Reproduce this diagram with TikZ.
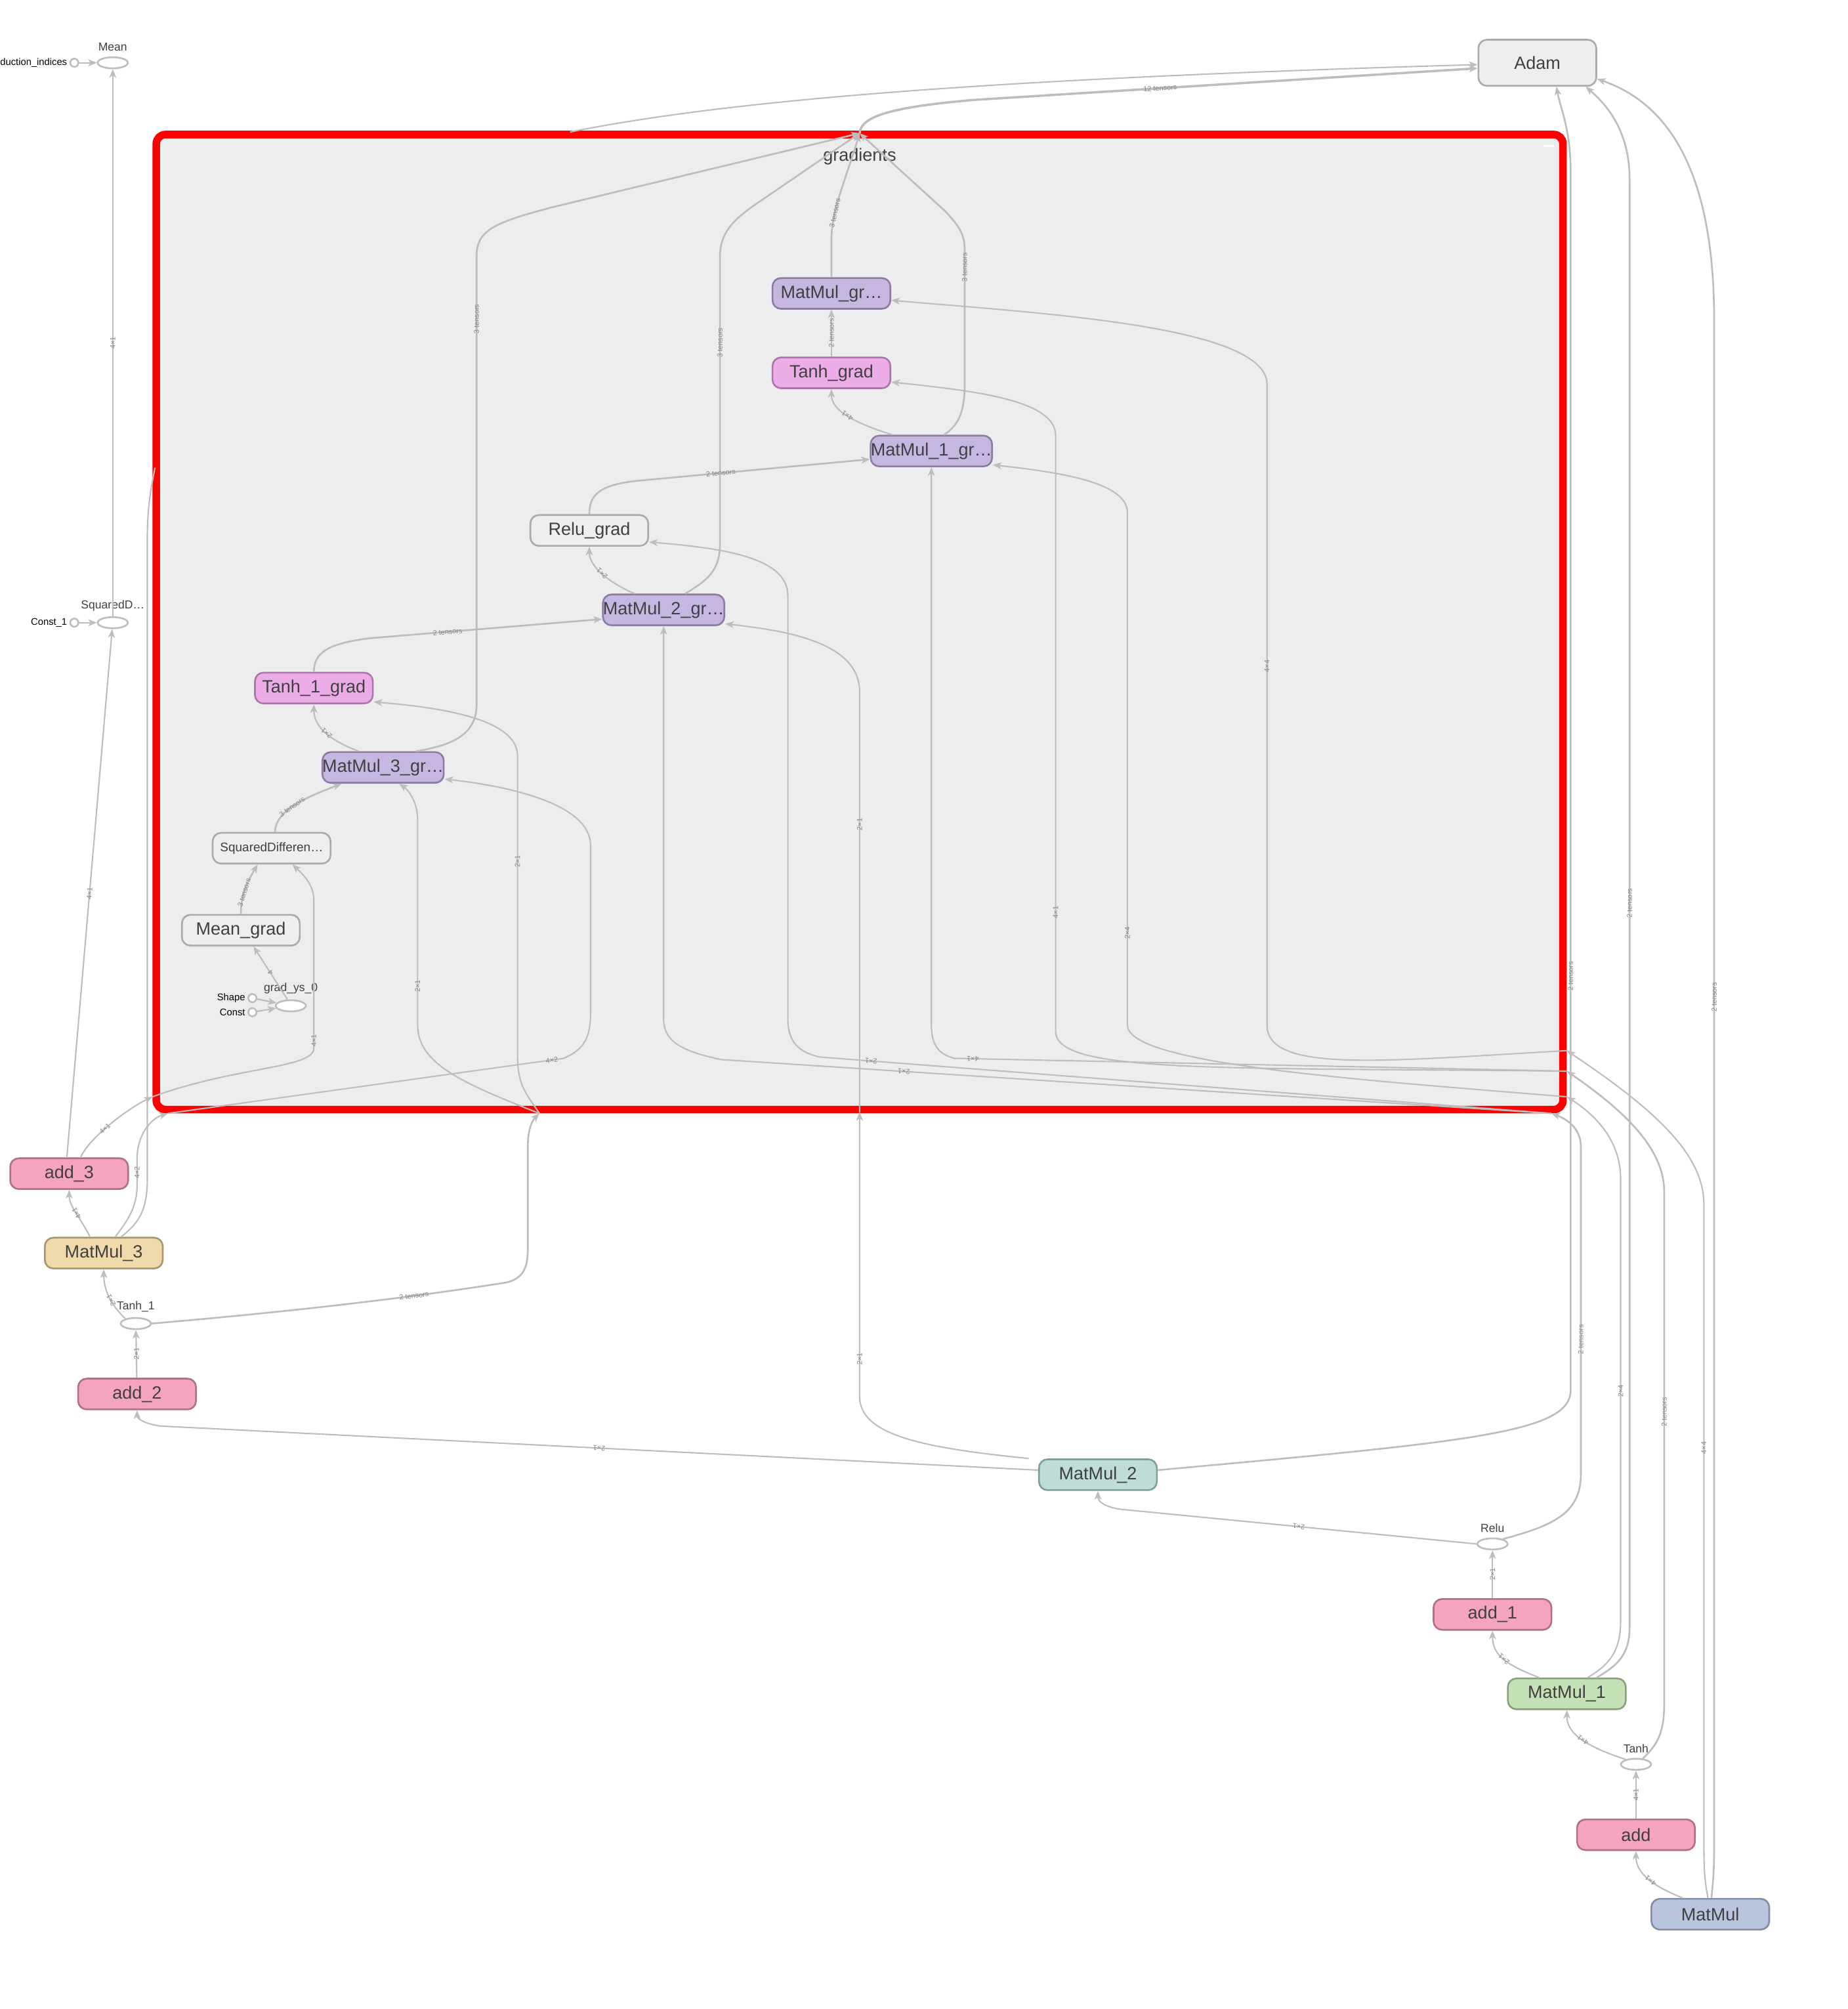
\documentclass[tikz,border=0pt]{standalone}
\usepackage{fontspec}
\setmainfont{Liberation Sans}
\usetikzlibrary{shapes.geometric,arrows.meta}
\definecolor{edgec}{HTML}{BDBDBD}
\definecolor{elabc}{HTML}{858585}
\definecolor{txt}{HTML}{404040}
\definecolor{framefill}{HTML}{EDEDED}
\definecolor{grayfill}{HTML}{EEEEEE}
\definecolor{graydraw}{HTML}{AAAAAA}
\definecolor{purfill}{HTML}{C5B7E1}
\definecolor{purdraw}{HTML}{8C7DA0}
\definecolor{pinkfill}{HTML}{EBACE8}
\definecolor{pinkdraw}{HTML}{AA78A8}
\definecolor{addfill}{HTML}{F5A4BE}
\definecolor{adddraw}{HTML}{B27087}
\definecolor{tanfill}{HTML}{F0DAAB}
\definecolor{tandraw}{HTML}{A8966E}
\definecolor{tealfill}{HTML}{BEDDD9}
\definecolor{tealdraw}{HTML}{7DA09C}
\definecolor{greenfill}{HTML}{C5E2B7}
\definecolor{greendraw}{HTML}{88A07D}
\definecolor{bluefill}{HTML}{B9C4DF}
\definecolor{bluedraw}{HTML}{828CA5}
\begin{document}
\begin{tikzpicture}[x=0.01953cm, y=-0.01953cm,
  opbox/.style={rectangle, rounded corners=0.13cm, line width=0.75pt, minimum width=1.797cm,
    minimum height=0.469cm, inner sep=0pt, text=txt, font=\fontsize{7.7}{9}\selectfont},
  graybox/.style={opbox, fill=grayfill, draw=graydraw},
  purbox/.style={opbox, fill=purfill, draw=purdraw},
  pinkbox/.style={opbox, fill=pinkfill, draw=pinkdraw},
  addbox/.style={opbox, fill=addfill, draw=adddraw},
  opell/.style={ellipse, draw=edgec, fill=white, line width=0.75pt, minimum width=0.46cm,
    minimum height=0.17cm, inner sep=0pt},
  oplab/.style={text=txt, font=\fontsize{5}{6}\selectfont, inner sep=0.8pt, label distance=1.3pt},
  cst/.style={circle, draw=edgec, fill=white, line width=0.75pt, minimum size=0.125cm, inner sep=0pt},
  cstlab/.style={text=black, font=\fontsize{4.2}{5}\selectfont, inner sep=0.8pt},
  conn/.style={draw=edgec, line width=0.6pt, -{Stealth[length=1.3mm,width=1.05mm,inset=0.35mm]}},
  conn2/.style={conn, line width=0.75pt},
  elab/.style={text=elabc, font=\fontsize{3.1}{3.6}\selectfont, inner sep=0.2pt, sloped, allow upside down},
]
\useasboundingbox (0,0) rectangle (1442,1568);
\fill[white] (0,0) rectangle (1442,1568);

% gradients group frame
\draw[draw=red, fill=framefill, line width=3.3pt, rounded corners=0.14cm] (122,105) rectangle (1220,866);
\draw[white, line width=1.1pt] (1205,114) -- (1213,114);
\node[text=txt, font=\fontsize{7.7}{9}\selectfont] (gradlab) at (671,122) {gradients};

% ports on the frame
\coordinate (gout) at (671,104);
\coordinate (ftop) at (445,103);
\coordinate (fleft) at (121,365);
\coordinate (inL) at (119,856);
\coordinate (inBL) at (131,869);
\coordinate (inB1) at (421,869);
\coordinate (inB2) at (671,868);
\coordinate (inBR) at (1211,869);
\coordinate (inR1) at (1223,820);
\coordinate (inR2) at (1223,836);
\coordinate (inR3) at (1223,856);

% loss ops, top left
\node[opell, label={[oplab]above:Mean}] (mean) at (88,49) {};
\node[cst, label={[cstlab]left:reduction\_indices}] (ri) at (58,49) {};
\node[opell, label={[oplab]above:SquaredD…}] (sqd) at (88,486) {};
\node[cst, label={[cstlab]left:Const\_1}] (c1) at (58,486) {};

% gradient ops
\node[purbox] (mmgr) at (649,229) {MatMul\_gr…};
\node[pinkbox] (tanhgr) at (649,291) {Tanh\_grad};
\node[purbox] (mm1gr) at (727,352) {MatMul\_1\_gr…};
\node[graybox] (relugr) at (460,414) {Relu\_grad};
\node[purbox] (mm2gr) at (518,476) {MatMul\_2\_gr…};
\node[pinkbox] (tanh1gr) at (245,537) {Tanh\_1\_grad};
\node[purbox] (mm3gr) at (299,599) {MatMul\_3\_gr…};
\node[graybox, font=\fontsize{5.4}{6.5}\selectfont] (sqdgr) at (212,662) {SquaredDifferen…};
\node[graybox] (meangr) at (188,726) {Mean\_grad};
\node[opell, label={[oplab]above:grad\_ys\_0}] (gys) at (227,785) {};
\node[cst, label={[cstlab]left:Shape}] (shape) at (197,779) {};
\node[cst, label={[cstlab]left:Const}] (const) at (197,790) {};

% forward ops
\node[graybox, minimum height=0.703cm] (adam) at (1200,49) {Adam};
\node[addbox] (add3) at (54,916) {add\_3};
\node[opbox, fill=tanfill, draw=tandraw] (mm3) at (81,978) {MatMul\_3};
\node[opell, label={[oplab]above:Tanh\_1}] (tanh1) at (106,1033) {};
\node[addbox] (add2) at (107,1088) {add\_2};
\node[opbox, fill=tealfill, draw=tealdraw] (mm2) at (857,1151) {MatMul\_2};
\node[opell, label={[oplab]above:Relu}] (relu) at (1165,1205) {};
\node[addbox] (add1) at (1165,1260) {add\_1};
\node[opbox, fill=greenfill, draw=greendraw] (mm1) at (1223,1322) {MatMul\_1};
\node[opell, label={[oplab]above:Tanh}] (tanh) at (1277,1377) {};
\node[addbox] (add) at (1277,1432) {add};
\node[opbox, fill=bluefill, draw=bluedraw] (mm) at (1335,1494) {MatMul};

% ---- loss edges
\draw[conn] (ri) -- (mean);
\draw[conn] (c1) -- (sqd);
\draw[conn] (sqd) -- node[elab]{4×1} (mean);
\draw[conn] ([xshift=-1pt]add3.north) -- node[elab]{4×1} (sqd);

% ---- MatMul_3
\draw[conn] ([xshift=-6pt]mm3.north) .. controls (64,952) and (54,942) .. node[elab,pos=.5]{4×1} (add3.south);
\draw[conn] ([xshift=5pt]mm3.north) .. controls (100,952) and (107,942) .. (107,925) -- node[elab]{4×2} (107,905) .. controls (107,885) and (118,873) .. (inBL);
\draw[draw=edgec, line width=0.6pt] ([xshift=7.5pt]mm3.north) .. controls (108,955) and (115,945) .. (115,920) -- (115,420) .. controls (115,395) and (118,380) .. (fleft);
\draw[conn] (inBL) -- node[elab,pos=.97]{4×2} (440,826) .. controls (456,819) and (461,810) .. (461,790) -- (461,660) .. controls (461,628) and (400,614) .. ([yshift=-5pt]mm3gr.east);

% ---- add_3 into the group
\draw[conn] ([xshift=5pt]add3.north) .. controls (68,890) and (98,866) .. node[elab,pos=.45]{4×1} (inL);
\draw[conn] (inL) .. controls (185,832) and (245,834) .. (245,818) -- node[elab,pos=.5]{4×1} (245,806) -- (245,703) .. controls (245,690) and (236,682) .. ([xshift=9pt]sqdgr.south);

% ---- Tanh_1
\draw[conn] (add2) -- node[elab]{2×1} (tanh1);
\draw[conn] (tanh1.155) .. controls (88,1020) and (81,1008) .. node[elab,pos=.45]{2×1} (mm3.south);
\draw[conn2] (tanh1.east) .. controls (200,1026) and (300,1016) .. node[elab,pos=.75]{2 tensors} (395,1001) .. controls (408,998) and (412,990) .. (412,975) -- (412,895) .. controls (412,882) and (415,875) .. (inB1);
\draw[conn] (inB1) .. controls (412,855) and (404,848) .. (404,825) -- node[elab,pos=.65]{2×1} (404,590) .. controls (404,560) and (340,552) .. ([yshift=-6pt]tanh1gr.east);
\draw[conn] (inB1) .. controls (360,845) and (326,830) .. (326,800) -- node[elab,pos=.19]{2×1} (326,640) .. controls (326,625) and (318,616) .. ([xshift=7pt]mm3gr.south);

% ---- MatMul_2
\draw[conn] ([yshift=2pt]mm2.west) -- node[elab]{2×1} (125,1113) .. controls (112,1111) and (107,1107) .. (add2.south);
\draw[conn] ([xshift=-30pt]mm2.north) .. controls (720,1130) and (671,1120) .. (671,1090) -- node[elab,pos=.14]{2×1} (671,880) -- (inB2);
\draw[conn] (inB2) -- node[elab,pos=.685]{2×1} (671,540) .. controls (671,500) and (610,492) .. ([yshift=-6pt]mm2gr.east);
\draw[conn2] ([yshift=2pt]mm2.east) .. controls (1150,1125) and (1226,1118) .. (1226,1085) -- node[elab,pos=.34]{2 tensors} (1226,135) .. controls (1226,100) and (1218,85) .. ([xshift=8.3pt]adam.south);

% ---- Relu
\draw[conn] (add1) -- node[elab]{2×1} (relu);
\draw[conn] (relu.west) -- node[elab]{2×1} (875,1178) .. controls (862,1176) and (857,1172) .. (mm2.south);
\draw[conn2] (relu.25) .. controls (1215,1190) and (1234,1180) .. (1234,1150) -- node[elab,pos=.41]{2 tensors} (1234,895) .. controls (1234,880) and (1222,873) .. (inBR);
\draw[conn] (inBR) -- node[elab,pos=.93]{2×1} (640,825) .. controls (622,821) and (615,812) .. (615,795) -- (615,465) .. controls (615,435) and (565,428) .. ([yshift=-5pt]relugr.east);
\draw[conn] (inBR) -- node[elab,pos=.78]{2×1} (563,827) .. controls (530,820) and (518,812) .. (518,795) -- (mm2gr.south);

% ---- MatMul_1
\draw[conn] ([xshift=-12pt]mm1.north) .. controls (1172,1298) and (1165,1290) .. node[elab,pos=.45]{2×1} (add1.south);
\draw[conn] ([xshift=9pt]mm1.north) .. controls (1255,1300) and (1265,1290) .. (1265,1265) -- node[elab,pos=.52]{2×4} (1265,920) .. controls (1265,890) and (1245,870) .. (inR3);
\draw[conn2] ([xshift=13pt]mm1.north) .. controls (1262,1300) and (1272,1292) .. (1272,1270) -- node[elab,pos=.5]{2 tensors} (1272,140) .. controls (1272,100) and (1252,80) .. ([xshift=21pt]adam.south);
\draw[conn] (inR3) .. controls (1050,842) and (880,830) .. (880,800) -- node[elab,pos=.18]{2×4} (880,400) .. controls (880,375) and (820,368) .. ([yshift=-6pt]mm1gr.east);

% ---- Tanh
\draw[conn] (add) -- node[elab]{4×1} (tanh);
\draw[conn] (tanh.155) .. controls (1235,1362) and (1223,1352) .. node[elab,pos=.45]{4×1} (mm1.south);
\draw[conn2] (tanh.40) .. controls (1292,1363) and (1299,1355) .. (1299,1330) -- node[elab,pos=.57]{2 tensors} (1299,930) .. controls (1299,895) and (1265,865) .. (inR2);
\draw[conn] (inR2) -- node[elab,pos=.97]{4×1} (745,826) .. controls (733,823) and (727,816) .. (727,800) -- (mm1gr.south);
\draw[conn] (inR2) .. controls (950,833) and (824,838) .. (824,805) -- node[elab,pos=.2]{4×1} (824,340) .. controls (824,312) and (760,305) .. ([yshift=-4pt]tanhgr.east);

% ---- MatMul
\draw[conn] ([xshift=-12pt]mm.north) .. controls (1290,1472) and (1277,1462) .. node[elab,pos=.45]{4×1} (add.south);
\draw[conn] ([xshift=-1pt]mm.north) .. controls (1331,1470) and (1330,1462) .. (1330,1440) -- node[elab,pos=.62]{4×4} (1330,940) .. controls (1330,900) and (1290,865) .. (inR1);
\draw[conn2] ([xshift=0.5pt]mm.north) .. controls (1337,1470) and (1338,1462) .. (1338,1440) -- node[elab,pos=.556]{2 tensors} (1338,250) .. controls (1338,130) and (1300,80) .. ([yshift=-7pt]adam.east);
\draw[conn] (inR1) .. controls (1080,828) and (989,838) .. (989,800) -- node[elab,pos=.56]{4×4} (989,300) .. controls (989,255) and (820,245) .. ([yshift=-3pt]mmgr.east);

% ---- group outputs to Adam
\draw[conn, line width=1pt] (gout) .. controls (672,92) and (690,84) .. (760,78) -- node[elab,pos=.37]{12 tensors} ([yshift=-2.4pt]adam.west);
\draw[conn] (ftop) .. controls (560,80) and (750,62) .. ([yshift=-0.8pt]adam.west);

% ---- gradient outputs
\draw[conn2] (mmgr.north) -- (649,187) .. controls (649,165) and (660,140) .. node[elab,pos=.3]{3 tensors} (gout);
\draw[conn2] ([xshift=5.5pt]mm1gr.north) .. controls (748,332) and (753,322) .. (753,300) -- node[elab,pos=.87]{3 tensors} (753,195) .. controls (753,182) and (748,176) .. (738,165) -- (gout);
\draw[conn2] ([xshift=9.4pt]mm2gr.north) .. controls (548,455) and (562,448) .. (562,425) -- node[elab,pos=.7]{3 tensors} (562,200) .. controls (562,182) and (572,172) .. (589,160) -- (gout);
\draw[conn2] ([xshift=14.4pt]mm3gr.north) .. controls (350,582) and (372,575) .. (372,550) -- node[elab,pos=.86]{3 tensors} (372,200) .. controls (372,180) and (385,174) .. (430,162) -- (gout);

% ---- gradient chain
\draw[conn2] (tanhgr) -- node[elab]{2 tensors} (mmgr);
\draw[conn] ([xshift=-17pt]mm1gr.north) .. controls (660,328) and (649,318) .. node[elab,pos=.45]{4×1} (tanhgr.south);
\draw[conn2] (relugr.north) .. controls (460,386) and (468,378) .. (500,375) -- node[elab,pos=.35]{2 tensors} ([yshift=-3.6pt]mm1gr.west);
\draw[conn] ([xshift=-12.7pt]mm2gr.north) .. controls (470,452) and (460,440) .. node[elab,pos=.45]{2×1} (relugr.south);
\draw[conn2] (tanh1gr.north) .. controls (245,510) and (255,502) .. (290,498) -- node[elab,pos=.33]{2 tensors} ([yshift=-4pt]mm2gr.west);
\draw[conn] ([xshift=-10.5pt]mm3gr.north) .. controls (255,577) and (245,566) .. node[elab,pos=.45]{2×1} (tanh1gr.south);
\draw[conn2] ([xshift=1.5pt]sqdgr.north) .. controls (215,632) and (240,622) .. node[elab,pos=.45]{3 tensors} ([xshift=-18pt]mm3gr.south);
\draw[conn2] (meangr.north) .. controls (188,700) and (192,690) .. node[elab,pos=.45]{3 tensors} ([xshift=-6pt]sqdgr.south);
\draw[conn] ([xshift=-1.5pt]gys.north) -- node[elab,pos=.5]{4} ([xshift=5.5pt]meangr.south);
\draw[conn] (shape) -- (gys);
\draw[conn] (const) -- (gys);
\end{tikzpicture}
\end{document}
